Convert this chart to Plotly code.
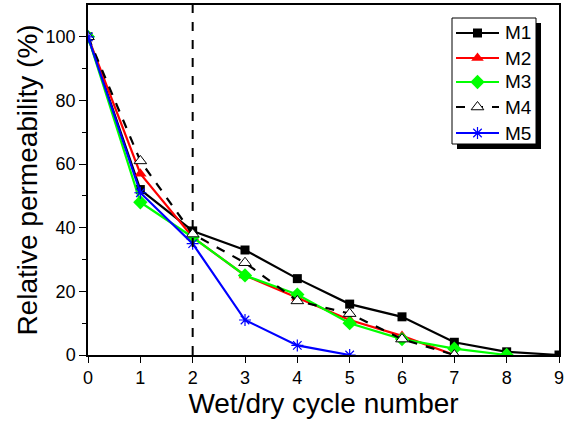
import plotly.graph_objects as go

cycles = [0, 1, 2, 3, 4, 5, 6, 7, 8, 9]
m1 = [100, 52, 39, 33, 24, 16, 12, 4, 1, 0]
m2 = [100, 57, 37, 25, 18, 11, 6, 0]
m3 = [100, 48, 37, 25, 19, 10, 5, 2, 0]
m4 = [100, 61, 38, 29, 17, 13, 5, 0]
m5 = [100, 51, 35, 11, 3, 0]
names = ["M1", "M2", "M3", "M4", "M5"]

FONT = "Liberation Sans, Arial, sans-serif"

# plot-area geometry (pixels) used to place the hand-drawn legend
L, R, T, B = 88, 559, 5, 355
def px(x):
    return (x - L) / (R - L)
def py(y):
    return (B - y) / (B - T)

styles = [
    ("black", "solid", dict(symbol="square", size=9, color="black")),
    ("#ff0000", "solid", dict(symbol="triangle-up", size=11, color="#ff0000")),
    ("#00ff00", "solid", dict(symbol="diamond", size=11, color="#00ff00")),
    ("black", "dash", dict(symbol="triangle-up", size=11, color="white",
                           line=dict(color="black", width=1))),
    ("#0000ff", "solid", dict(symbol="asterisk-open", size=10, color="#0000ff",
                              line=dict(color="#0000ff", width=1.2))),
]

fig = go.Figure()
for name, ys, (col, dash, mk) in zip(names, [m1, m2, m3, m4, m5], styles):
    fig.add_trace(go.Scatter(
        x=cycles[:len(ys)], y=ys, name=name, mode="lines+markers",
        line=dict(color=col, width=2.2, dash=dash), marker=mk, showlegend=False,
    ))

fig.add_shape(type="line", xref="x", yref="paper", x0=2, x1=2, y0=0, y1=1,
              line=dict(color="black", width=2, dash="dash"))

# legend box with shadow
fig.add_shape(type="rect", xref="paper", yref="paper",
              x0=px(457), x1=px(541), y0=py(149), y1=py(23),
              fillcolor="black", line=dict(width=0), layer="below")
fig.add_shape(type="rect", xref="paper", yref="paper",
              x0=px(452), x1=px(536), y0=py(144), y1=py(18),
              fillcolor="white", line=dict(color="black", width=1), layer="below")

row_y = [33, 58, 82, 107, 133]
for name, ry, (col, dash, mk) in zip(names, row_y, styles):
    fig.add_trace(go.Scatter(
        x=[px(456), px(499)], y=[py(ry), py(ry)], mode="lines",
        line=dict(color=col, width=2.2, dash=dash), xaxis="x2", yaxis="y2",
        showlegend=False, hoverinfo="skip"))
    fig.add_trace(go.Scatter(
        x=[px(477.5)], y=[py(ry)], mode="markers", marker=mk,
        xaxis="x2", yaxis="y2", showlegend=False, hoverinfo="skip"))
    fig.add_annotation(x=px(503), y=py(ry), xref="paper", yref="paper",
                       text=name, showarrow=False, xanchor="left", yanchor="middle",
                       font=dict(size=19, family=FONT, color="black"))

fig.update_layout(
    width=566, height=421,
    margin=dict(l=L, r=566 - R, t=T, b=421 - B, autoexpand=False),
    paper_bgcolor="white", plot_bgcolor="white",
    font=dict(family=FONT, color="black", size=18),
    showlegend=False,
    xaxis=dict(range=[0, 9], tickvals=list(range(10)), showline=True, mirror=True,
               linecolor="black", linewidth=1.5, ticks="outside", ticklen=6,
               tickcolor="black", showgrid=False, zeroline=False, automargin=False,
               title=dict(text="Wet/dry cycle number", font=dict(size=28), standoff=5),
               tickfont=dict(size=18)),
    yaxis=dict(range=[0, 110], tickvals=[0, 20, 40, 60, 80, 100], showline=True,
               mirror=True, linecolor="black", linewidth=1.5, ticks="outside",
               ticklen=7, tickcolor="black", showgrid=False, zeroline=False,
               automargin=False,
               minor=dict(tickvals=[10, 30, 50, 70, 90], ticks="outside", ticklen=4,
                          tickcolor="black"),
               title=dict(text="Relative permeability (%)", font=dict(size=28), standoff=0),
               tickfont=dict(size=18)),
    xaxis2=dict(range=[0, 1], overlaying="x", visible=False, fixedrange=True),
    yaxis2=dict(range=[0, 1], overlaying="y", visible=False, fixedrange=True),
)

fig.write_html("out.html", config={"displayModeBar": False},
               post_script="document.body.style.margin='0';")
